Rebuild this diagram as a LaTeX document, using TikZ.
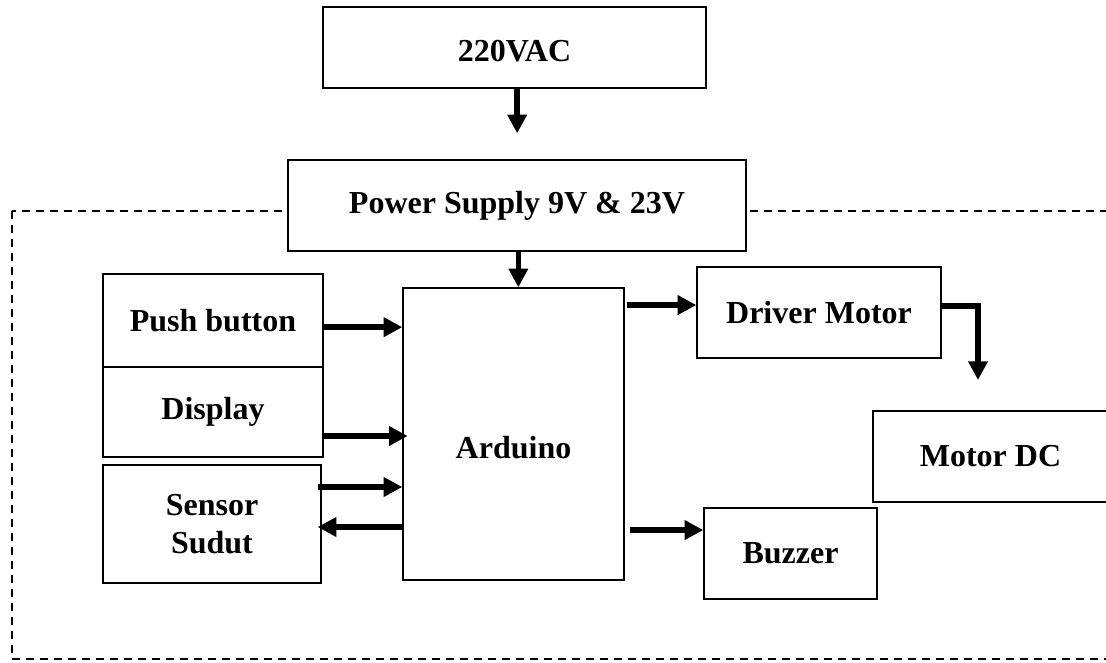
\documentclass[tikz,border=0pt]{standalone}
\usepackage{fontspec}
\setmainfont{Liberation Serif}
\usetikzlibrary{arrows.meta}
\tikzset{box/.style={draw,line width=1pt,fill=white,inner sep=0pt,align=center,font=\fontsize{24}{29}\selectfont\bfseries},
flow/.style={line width=4.2pt,-{Triangle[length=14pt,width=14pt]}}}

\begin{document}
\begin{tikzpicture}[x=0.75pt,y=-0.75pt]
\path[use as bounding box] (0,0) rectangle (1106,663);
\draw[dashed,line width=1pt,dash pattern=on 6pt off 4.5pt] (12,211) rectangle (1120,659);
\node[box,minimum width=287.25pt,minimum height=60.75pt,text height=22pt] (ac) at (514.5,47.5) {220VAC};
\node[box,minimum width=343.5pt,minimum height=68.25pt] (psu) at (517,205.5) {Power Supply 9V \& 23V};
\node[box,minimum width=165.75pt,minimum height=219pt] (ard) at (513.5,434) {};
\node[inner sep=0pt,font=\fontsize{24}{29}\selectfont\bfseries] (ardtext) at (513.5,448) {Arduino};
\node[box,minimum width=165pt,minimum height=69.75pt] (push) at (213,320.5) {Push button};
\node[box,minimum width=165pt,minimum height=67.5pt] (disp) at (213,412) {Display};
\node[box,minimum width=163.5pt,minimum height=88.5pt] (sensor) at (212,524) {Sensor\\Sudut};
\node[box,minimum width=183pt,minimum height=68.25pt] (driver) at (819,312.5) {Driver Motor};
\node[box,minimum width=176.25pt,minimum height=68.25pt] (motor) at (990.5,456.5) {Motor DC};
\node[box,minimum width=129.75pt,minimum height=68.25pt] (buzzer) at (790.5,553.5) {Buzzer};
\coordinate (mtop) at (978,380);
\draw[flow,shorten >=19.5pt] ([xshift=2pt]ac.south) -- ([xshift=2pt]ac.south |- psu.north);
\draw[flow] ([xshift=1pt]psu.south) -- ([xshift=1pt]psu.south |- ard.north);
\draw[flow] ([yshift=-5pt]push.east) -- ([yshift=-5pt]push.east -| ard.west);
\draw[flow] ([yshift=-18pt]disp.east) -- ([yshift=-18pt,xshift=4pt]disp.east -| ard.west);
\draw[flow] ([yshift=27.75pt,xshift=-3pt]sensor.east) -- ([yshift=27.75pt]sensor.east -| ard.west);
\draw[flow] ([yshift=-2.25pt]sensor.east -| ard.west) -- ([yshift=-2.25pt,xshift=-3pt]sensor.east);
\draw[flow] ([yshift=5.6pt,xshift=1.5pt]driver.west -| ard.east) -- ([yshift=5.6pt]driver.west);
\draw[flow] ([yshift=4.9pt]driver.east) -| (mtop);
\draw[flow] ([yshift=17.6pt,xshift=3.75pt]buzzer.west -| ard.east) -- ([yshift=17.6pt]buzzer.west);
\end{tikzpicture}
\end{document}
